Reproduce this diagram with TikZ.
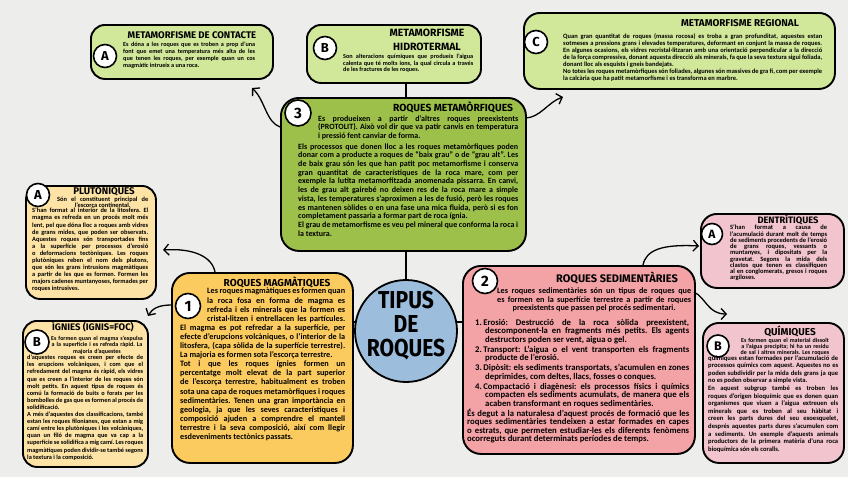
\documentclass[tikz,border=0pt]{standalone}
\usepackage{fontspec}
\usepackage{graphicx}
\setmainfont{Carlito}
\newfontfamily\titlefont{Fira Sans}
\usetikzlibrary{arrows.meta}
\definecolor{paper}{HTML}{EDEDEB}
\definecolor{lgreen}{HTML}{D1E79A}
\definecolor{dgreen}{HTML}{9DC04A}
\definecolor{lyellow}{HTML}{FDE3A6}
\definecolor{dyellow}{HTML}{FBCB5F}
\definecolor{dpink}{HTML}{F3A2A6}
\definecolor{lpink}{HTML}{F2C5CE}
\definecolor{cblue}{HTML}{9DBDDC}
\newcommand{\bfnt}[2]{\bfseries\fontsize{#1}{#2}\selectfont\frenchspacing\spaceskip=0.22em plus 0.45em minus 0.05em\tolerance=9000\hyphenpenalty=10000\exhyphenpenalty=10000\parindent=0pt\emergencystretch=2em\relax}
\newcommand{\tfnt}[1]{\titlefont\bfseries\fontsize{#1}{#1}\selectfont}
\newcommand{\lastcenter}{\leftskip=0pt plus 1fil\rightskip=0pt plus -1fil\parfillskip=0pt plus 2fil\relax}
\newcommand{\itm}{\hangindent=10pt\hangafter=1\relax}
\newcommand{\bigsq}[1]{\scalebox{0.86}[1]{#1}}
\tikzset{
  bx/.style={draw=black, line width=1.9pt, rounded corners=#1, anchor=north west, inner sep=0pt},
  bx/.default=14pt,
  lab/.style={circle, draw=black, line width=1.6pt, fill=white, inner sep=0pt, minimum size=#1, font=\tfnt{13}},
  lab/.default=23pt,
  ttl/.style={inner sep=0pt, font=\tfnt{#1}},
  big/.style={inner sep=0pt, font=\tfnt{24.5}},
  txt/.style n args={3}{anchor=north west, inner sep=0pt, text width=#1, align=justify, font=\bfnt{#2}{#3}},
  cen/.style n args={3}{anchor=center, inner sep=0pt, text width=#1, align=center, font=\bfnt{#2}{#3}},
  conn/.style={line width=1.3pt},
  arr/.style={conn, -{Straight Barb[length=5pt,width=11pt,line width=1.3pt]}}
}
\begin{document}
\begin{tikzpicture}[x=1pt,y=-1pt]
\useasboundingbox (0,0) rectangle (848,477);
\fill[paper] (0,0) rectangle (848,477);

% ---------- boxes ----------
\node[bx, fill=lgreen, minimum width=182, minimum height=54] (contacte) at (90,24) {};
\node[bx, fill=lgreen, minimum width=174, minimum height=58] (hidro) at (306,24) {};
\node[bx=16pt, fill=lgreen, minimum width=311, minimum height=76] (regional) at (523,12) {};
\node[bx=18pt, fill=dgreen, minimum width=245, minimum height=153] (meta) at (280,97) {};
\node[bx, fill=lyellow, minimum width=130, minimum height=113] (pluto) at (25,185) {};
\node[bx, fill=lyellow, minimum width=125, minimum height=146] (ignies) at (22,320) {};
\node[bx=18pt, fill=dyellow, minimum width=181, minimum height=190] (magma) at (171,272) {};
\node[bx=18pt, fill=dpink, minimum width=232, minimum height=188] (sedi) at (462,265) {};
\node[bx=16pt, fill=lpink, minimum width=143, minimum height=74] (dentri) at (700,213) {};
\node[bx=16pt, fill=lpink, minimum width=141, minimum height=140] (quimi) at (702,322) {};
\node[circle, draw=black, line width=1.8pt, fill=cblue, minimum size=102pt, inner sep=0pt] (tipus) at (406,331) {};

% ---------- connectors ----------
\draw[conn] (tipus.north |- hidro.south) -- (tipus.north |- meta.north);
\draw[conn] (tipus.north |- meta.south) -- (tipus.north);
\draw[conn] (tipus.170) -- (magma.east |- tipus.170);
\draw[conn] (tipus.10) -- (sedi.west |- tipus.10);
\coordinate (mc1) at (280,127);
\coordinate (mc2) at (252,88);
\draw[arr] (mc1) .. controls (266,122) and (265,100) .. (mc2);
\coordinate (mr1) at (525,118);
\coordinate (mr2) at (563,97);
\draw[arr] (mr1) .. controls (540,118) and (548,102) .. (mr2);
\coordinate (pp1) at (215,272);
\coordinate (pp2) at (163,250);
\draw[arr] (pp1) .. controls (212,256) and (192,248) .. (pp2);
\coordinate (ig1) at (171,305);
\coordinate (ig2) at (148,316);
\draw[arr] (ig1) .. controls (158,305) and (152,309) .. (ig2);
\coordinate (sd1) at (643,265);
\coordinate (sd2) at (699,246);
\draw[arr] (sd1) .. controls (646,250) and (662,244) .. (sd2);
\coordinate (sq1) at (694,292);
\coordinate (sq2) at (727,314);
\draw[arr] (sq1) .. controls (706,298) and (708,314) .. (sq2);

% ---------- central circle ----------
\node[big] (tip1) at (406,300) {\bigsq{TIPUS}};
\node[big] (tip2) at (406,324.5) {\bigsq{DE}};
\node[big] (tip3) at (406,350) {\bigsq{ROQUES}};

% ---------- metamorfisme de contacte ----------
\node[ttl=9.6] (contactet) at (192,35) {METAMORFISME DE CONTACTE};
\node[lab] (contactel) at (105,56) {A};
\node[txt={132}{6.2}{6.8}] (contacteb) at (123,42) {Es dóna a les roques que es troben a prop d'una font que emet una temperatura més alta de les que tenen les roques, per exemple quan un cos magmàtic intrueix a una roca.};

% ---------- metamorfisme hidrotermal ----------
\node[ttl=10.5] (hidrot1) at (427,33) {METAMORFISME};
\node[ttl=10.5] (hidrot2) at (427,47) {HIDROTERMAL};
\node[lab] (hidrol) at (325,48) {B};
\node[txt={130}{6.2}{6.6}] (hidrob) at (343,54) {Son alteracions químiques que produeix l'aigua calenta que té molts ions, la qual circula a través de les fractures de les roques.};

% ---------- metamorfisme regional ----------
\node[ttl=9.9] (regionalt) at (740,23) {METAMORFISME REGIONAL};
\node[lab] (regionall) at (536,42) {C};
\node[txt={259}{6.5}{7}] (regionalb) at (563,33) {Quan gran quantitat de roques (massa rocosa) es troba a gran profunditat, aquestes estan sotmeses a pressions grans i elevades temperatures, deformant en conjunt la massa de roques. En algunes ocasions, els vidres recristal·litzaran amb una orientació perpendicular a la direcció de la força compressiva, donant aquesta direcció als minerals, fa que la seva textura sigui foliada, donant lloc als esquists i gneis bandejats.\par No totes les roques metamòrfiques són foliades, algunes són massives de gra fi, com per exemple la calcària que ha patit metamorfisme i es transforma en marbre.};

% ---------- roques metamorfiques ----------
\node[ttl=10.3] (metat) at (453,107) {ROQUES METAMÒRFIQUES};
\node[lab=26pt, font=\tfnt{15}] (metal) at (298,113) {3};
\node[txt={220}{8}{8.7}] (metab) at (298,115) {\parshape 4 20pt 200pt 20pt 200pt 20pt 200pt 0pt 220pt Es produeixen a partir d'altres roques preexistents (PROTOLIT). Això vol dir que va patir canvis en temperatura i pressió fent canviar de forma.\par\vskip2pt Els processos que donen lloc a les roques metamòrfiques poden donar com a producte a roques de ``baix grau'' o de ``grau alt''. Les de baix grau són les que han patit poc metamorfisme i conserva gran quantitat de característiques de la roca mare, com per exemple la lutita metamorfitzada anomenada pissarra. En canvi, les de grau alt gairebé no deixen res de la roca mare a simple vista, les temperatures s'aproximen a les de fusió, però les roques es mantenen sòlides o en una fase una mica fluida, però si es fon completament passaria a formar part de roca ígnia.\par El grau de metamorfisme es veu pel mineral que conforma la roca i la textura.};

% ---------- plutoniques ----------
\node[ttl=9.7] (plutot) at (104,191) {PLUTÒNIQUES};
\node[lab] (plutol) at (38,195) {A};
\node[txt={91}{6.4}{6.2}] (plutoi) at (57,197) {\lastcenter Són el constituent principal de l'escorça continental.\par};
\node[txt={116}{6.4}{7.1}] (plutob) at (32,208) {S'han format al interior de la litosfera. El magma es refreda en un procés molt més lent, pel que dóna lloc a roques amb vidres de grans mides, que poden ser observats. Aquestes roques són transportades fins a la superfície per processos d'erosió o deformacions tectòniques. Les roques plutòniques reben el nom dels plutons, que són les grans intrusions magmàtiques a partir de les que es formen. Formen les majors cadenes muntanyoses, formades per roques intrusives.};

% ---------- ignies ----------
\node[ttl=9.5] (ignit) at (93,327) {ÍGNIES (IGNIS=FOC)};
\node[lab=24pt] (ignil) at (37,342) {B};
\node[cen={92}{6}{6.4}] (ignii) at (97,345) {Es formen quan el magma s'expulsa\\a la superfície i es refreda ràpid. La\\majoria d'aquestes};
\node[txt={116}{6.3}{7.1}] (ignib) at (27,355) {d'aquestes roques es creen per efecte de les erupcions volcàniques, i com que el refredament del magma és ràpid, els vidres que es creen a l'interior de les roques són molt petits. En aquest tipus de roques és comú la formació de buits o forats per les bombolles de gas que es formen al procés de solidificació.\par A més d'aquestes dos classificacions, també estan les roques filonianes, que estan a mig camí entre les plutòniques i les volcàniques, quan un filó de magma que va cap a la superfície se solidifica a mig camí. Les roques magmàtiques poden dividir-se també segons la textura i la composició.};

% ---------- roques magmatiques ----------
\node[ttl=10.1] (magmat) at (277,282) {ROQUES MAGMÀTIQUES};
\node[lab=25pt, font=\tfnt{15}] (magmal) at (188,306) {1};
\node[txt={165}{8.2}{9.1}] (magmab) at (180,288) {\parshape 5 27pt 138pt 27pt 138pt 27pt 138pt 27pt 138pt 0pt 165pt Les roques magmàtiques es formen quan la roca fosa en forma de magma es refreda i els minerals que la formen es cristal·litzen i entrellacen les partícules. El magma es pot refredar a la superfície, per efecte d'erupcions volcàniques, o l'interior de la litosfera, (capa sòlida de la superfície terrestre). La majoria es formen sota l'escorça terrestre.\par Tot i que les roques ígnies formen un percentatge molt elevat de la part superior de l'escorça terrestre, habitualment es troben sota una capa de roques metamòrfiques i roques sedimentàries. Tenen una gran importància en geologia, ja que les seves característiques i composició ajuden a comprendre el mantell terrestre i la seva composició, així com llegir esdeveniments tectònics passats.};

% ---------- roques sedimentaries ----------
\node[ttl=11] (sedit) at (617,278) {ROQUES SEDIMENTÀRIES};
\node[lab=25pt, font=\tfnt{15}] (sedil) at (485,281) {2};
\node[txt={194}{8.2}{8.4}] (sedii) at (497,288) {\lastcenter Les roques sedimentàries són un tipus de roques que es formen en la superfície terrestre a partir de roques preexistents que passen pel procés sedimentari.\par};
\node[txt={222}{8.7}{8.5}] (sedib) at (467,319) {\leftskip=8pt
\itm 1.\,Erosió: Destrucció de la roca sòlida preexistent, descomponent-la en fragments més petits. Els agents destructors poden ser vent, aigua o gel.\par\vskip1.5pt
\itm 2.\,Transport: L'aigua o el vent transporten els fragments producte de l'erosió.\par\vskip1.5pt
\itm 3.\,Dipòsit: els sediments transportats, s'acumulen en zones deprimides, com deltes, llacs, fosses o conques.\par\vskip1.5pt
\itm 4.\,Compactació i diagènesi: els processos físics i químics compacten els sediments acumulats, de manera que els acaben transformant en roques sedimentàries.\par\vskip0.5pt
\leftskip=0pt És degut a la naturalesa d'aquest procés de formació que les roques sedimentàries tendeixen a estar formades en capes o estrats, que permeten estudiar-les els diferents fenòmens ocorreguts durant determinats períodes de temps.};

% ---------- dentritiques ----------
\node[ttl=9.3] (dentrit) at (788,220) {DENTRÍTIQUES};
\node[lab=21pt, font=\tfnt{12}] (dentril) at (712,234) {A};
\node[txt={97}{6.5}{6.25}] (dentrib) at (730,225) {S'han format a causa de l'acumulació durant molt de temps de sediments procedents de l'erosió de grans roques, vessants o muntanyes, i dipositats per la gravetat. Segons la mida dels clastos que tenen es classifiquen al en conglomerats, gresos i roques argiloses.};

% ---------- quimiques ----------
\node[ttl=10] (quimit) at (790,331) {QUÍMIQUES};
\node[lab=22pt, font=\tfnt{12.5}] (quimil) at (718,346) {B};
\node[cen={100}{6}{6.2}] (quimii) at (785,347) {Es formen quan el material dissolt\\a l'aigua precipita; hi ha un residu\\de sal i altres minerals. Les roques};
\node[txt={130}{6.6}{7.6}] (quimib) at (708,355) {químiques estan formades per l'acumulació de processos químics com aquest. Aquestes no es poden subdividir per la mida dels grans ja que no es poden observar a simple vista.\par En aquest subgrup també es troben les roques d'origen bioquímic que es donen quan organismes que viuen a l'aigua extreuen els minerals que es troben al seu hàbitat i creen les parts dures del seu exoesquelet, després aquestes parts dures s'acumulen com a sediments. Un exemple d'aquests animals productors de la primera matèria d'una roca bioquímica són els coralls.};
\end{tikzpicture}
\end{document}
